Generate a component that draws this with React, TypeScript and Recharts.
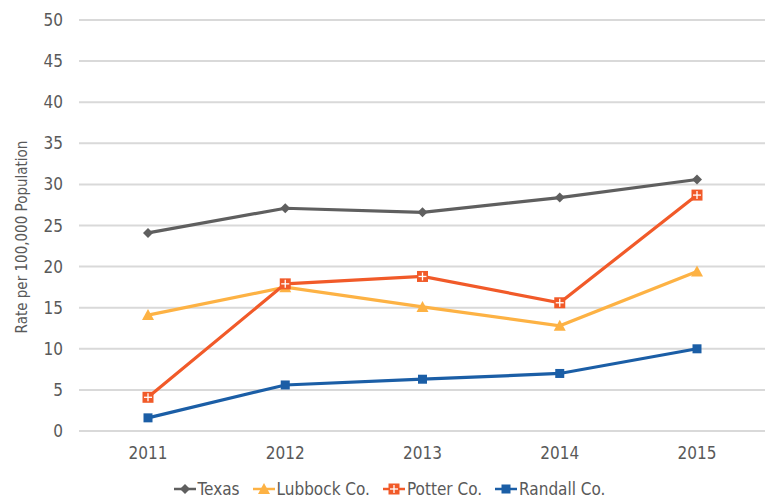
import React from 'react';
import {
  CartesianGrid,
  Legend,
  Line,
  LineChart,
  XAxis,
  YAxis,
} from 'recharts';

const years = ['2011', '2012', '2013', '2014', '2015'];
const texas = [24.1, 27.1, 26.6, 28.4, 30.6];
const lubbock = [14.1, 17.5, 15.1, 12.8, 19.4];
const potter = [4.1, 17.9, 18.8, 15.6, 28.7];
const randall = [1.6, 5.6, 6.3, 7.0, 10.0];
const yTicks = [0, 5, 10, 15, 20, 25, 30, 35, 40, 45, 50];

const data = years.map((year, i) => ({
  year,
  texas: texas[i],
  lubbock: lubbock[i],
  potter: potter[i],
  randall: randall[i],
}));

const FONT = "'Liberation Sans Narrow', 'DejaVu Sans Condensed', 'Arial Narrow', sans-serif";
const TEXT = '#595959';

const COLORS = {
  texas: '#5f5f5f',
  lubbock: '#fdb244',
  potter: '#f15a29',
  randall: '#1b5ea6',
};

type Shape = 'diamond' | 'triangle' | 'cross' | 'square';

function Marker({ cx, cy, shape, color }: { cx: number; cy: number; shape: Shape; color: string }) {
  if (cx == null || cy == null) return null;
  if (shape === 'diamond') {
    const r = 5;
    return <polygon points={`${cx},${cy - r} ${cx + r},${cy} ${cx},${cy + r} ${cx - r},${cy}`} fill={color} />;
  }
  if (shape === 'triangle') {
    const r = 6;
    return <polygon points={`${cx},${cy - r} ${cx + r},${cy + r - 1} ${cx - r},${cy + r - 1}`} fill={color} />;
  }
  if (shape === 'cross') {
    const r = 5.5;
    return (
      <g>
        <rect x={cx - r} y={cy - r} width={r * 2} height={r * 2} fill={color} />
        <line x1={cx} y1={cy - r + 1.5} x2={cx} y2={cy + r - 1.5} stroke='#fff' strokeWidth={1.3} />
        <line x1={cx - r + 1.5} y1={cy} x2={cx + r - 1.5} y2={cy} stroke='#fff' strokeWidth={1.3} />
      </g>
    );
  }
  const r = 4.5;
  return <rect x={cx - r} y={cy - r} width={r * 2} height={r * 2} fill={color} />;
}

const makeDot = (shape: Shape, color: string) => (props: any) => (
  <Marker key={`${shape}-${props.index}`} cx={props.cx} cy={props.cy} shape={shape} color={color} />
);

const legendItems: { label: string; shape: Shape; color: string }[] = [
  { label: 'Texas', shape: 'diamond', color: COLORS.texas },
  { label: 'Lubbock Co.', shape: 'triangle', color: COLORS.lubbock },
  { label: 'Potter Co.', shape: 'cross', color: COLORS.potter },
  { label: 'Randall Co.', shape: 'square', color: COLORS.randall },
];

function LegendContent() {
  return (
    <div style={{ display: 'flex', justifyContent: 'center', alignItems: 'center', height: 31, paddingTop: 5, paddingLeft: 14, boxSizing: 'border-box', gap: 13, fontFamily: FONT, fontSize: 17, color: TEXT }}>
      {legendItems.map((item) => (
        <div key={item.label} style={{ display: 'flex', alignItems: 'center' }}>
          <svg width={22} height={14} style={{ marginRight: 2 }}>
            <line x1={0} y1={7} x2={22} y2={7} stroke={item.color} strokeWidth={2.5} />
            <Marker cx={11} cy={7} shape={item.shape} color={item.color} />
          </svg>
          <span>{item.label}</span>
        </div>
      ))}
    </div>
  );
}

function YLabel() {
  return (
    <text
      x={22}
      y={237}
      transform='rotate(-90 22 237)'
      textAnchor='middle'
      dominantBaseline='central'
      fill={TEXT}
      fontSize={15}
      fontFamily={FONT}
    >
      Rate per 100,000 Population
    </text>
  );
}

export default function App() {
  return (
    <div style={{ position: 'absolute', left: 0, top: 0, background: '#fff' }}>
      <LineChart
        width={774}
        height={502}
        data={data}
        margin={{ top: 20, right: 9, left: 0, bottom: 0 }}
      >
        <CartesianGrid vertical={false} stroke='#d9d9d9' strokeWidth={2} />
        <XAxis
          dataKey='year'
          height={40}
          axisLine={false}
          tickLine={false}
          tickSize={0}
          tickMargin={16}
          padding={{ left: 69, right: 68 }}
          tick={{ fill: TEXT, fontSize: 17, fontFamily: FONT }}
        />
        <YAxis
          width={79}
          domain={[0, 50]}
          ticks={yTicks}
          axisLine={false}
          tickLine={false}
          tickSize={0}
          tickMargin={16}
          tick={{ fill: TEXT, fontSize: 17, fontFamily: FONT }}
          label={<YLabel />}
        />
        <Legend verticalAlign='bottom' content={<LegendContent />} wrapperStyle={{ height: 31 }} />
        <Line type='linear' dataKey='texas' stroke={COLORS.texas} strokeWidth={3.2} dot={makeDot('diamond', COLORS.texas)} isAnimationActive={false} />
        <Line type='linear' dataKey='lubbock' stroke={COLORS.lubbock} strokeWidth={3.2} dot={makeDot('triangle', COLORS.lubbock)} isAnimationActive={false} />
        <Line type='linear' dataKey='potter' stroke={COLORS.potter} strokeWidth={3.2} dot={makeDot('cross', COLORS.potter)} isAnimationActive={false} />
        <Line type='linear' dataKey='randall' stroke={COLORS.randall} strokeWidth={3.2} dot={makeDot('square', COLORS.randall)} isAnimationActive={false} />
      </LineChart>
    </div>
  );
}
